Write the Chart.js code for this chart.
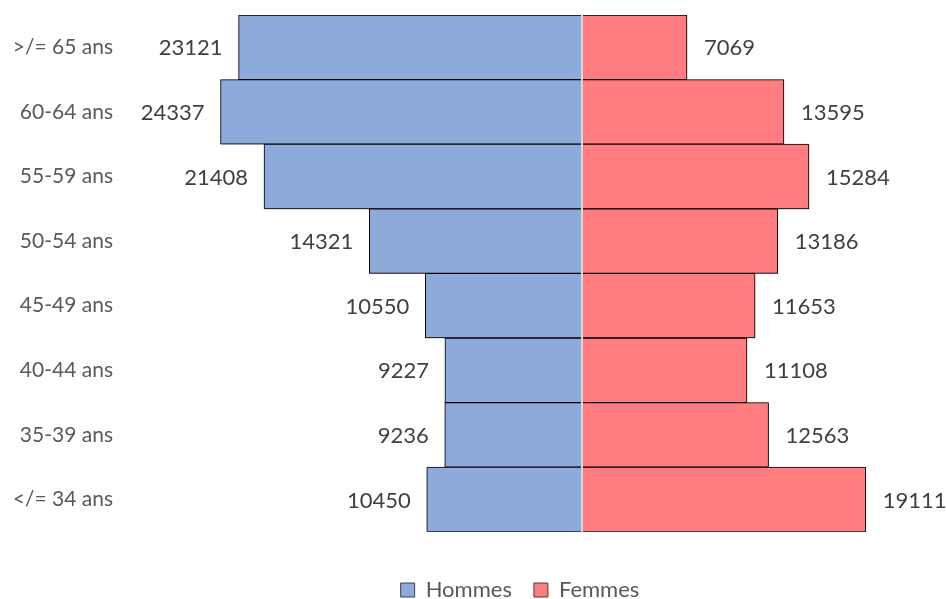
<!DOCTYPE html>
<html>
<head>
<meta charset="utf-8">
<script src="https://cdn.jsdelivr.net/npm/chart.js@4.4.1/dist/chart.umd.min.js"></script>
<style>
  html, body { margin: 0; padding: 0; background: #fff; }
  #wrap { width: 946px; height: 599px; }
</style>
</head>
<body>
<div id="wrap"><canvas id="c"></canvas></div>
<script>
// age groups, top to bottom
const ageGroups = ['>/= 65 ans', '60-64 ans', '55-59 ans', '50-54 ans', '45-49 ans', '40-44 ans', '35-39 ans', '</= 34 ans'];
const hommes = [23121, 24337, 21408, 14321, 10550, 9227, 9236, 10450];
const femmes = [7069, 13595, 15284, 13186, 11653, 11108, 12563, 19111];

const FONT = 'Lato, "Open Sans", sans-serif';

// shadow under the bars
const shadowPlugin = {
    id: 'barShadow',
    beforeDatasetsDraw(chart) {
        const ctx = chart.ctx;
        ctx.save();
        ctx.shadowColor = 'rgba(0,0,0,0.45)';
        ctx.shadowBlur = 4;
        ctx.shadowOffsetX = 1;
        ctx.shadowOffsetY = 2;
    },
    afterDatasetsDraw(chart) {
        chart.ctx.restore();
    }
};

// nudge the legend lower and a bit to the right, like the original
const legendShift = {
    id: 'legendShift',
    afterLayout(chart) {
        const lg = chart.legend;
        lg.top += 12;
        lg.bottom += 12;
        lg.left += 55;
        lg.right += 55;
    }
};

// zero line + value labels
const labelPlugin = {
    id: 'valueLabels',
    afterDatasetsDraw(chart) {
        const ctx = chart.ctx;
        const x0 = chart.scales.x.getPixelForValue(0);
        ctx.save();
        ctx.strokeStyle = '#d9d9d9';
        ctx.lineWidth = 2;
        ctx.beginPath();
        ctx.moveTo(x0, chart.chartArea.top);
        ctx.lineTo(x0, chart.chartArea.bottom);
        ctx.stroke();

        ctx.font = '22px ' + FONT;
        ctx.fillStyle = '#404040';
        ctx.textBaseline = 'middle';
        chart.data.datasets.forEach(function(ds, i) {
            const meta = chart.getDatasetMeta(i);
            meta.data.forEach(function(bar, j) {
                const v = Math.abs(ds.data[j]);
                if (ds.data[j] < 0) {
                    ctx.textAlign = 'right';
                    ctx.fillText(v, bar.x - 16, bar.y + 1);
                } else {
                    ctx.textAlign = 'left';
                    ctx.fillText(v, bar.x + 17, bar.y + 1);
                }
            });
        });
        ctx.restore();
    }
};

new Chart(document.getElementById('c'), {
    type: 'bar',
    data: {
        labels: ageGroups,
        datasets: [
            {
                label: 'Hommes',
                data: hommes.map(function(v) { return -v; }),
                backgroundColor: '#8eaadb',
                borderColor: '#000000',
                borderWidth: 1,
                borderSkipped: 'start',
                barPercentage: 1,
                categoryPercentage: 1
            },
            {
                label: 'Femmes',
                data: femmes,
                backgroundColor: '#ff7c80',
                borderColor: '#000000',
                borderWidth: 1,
                borderSkipped: 'start',
                barPercentage: 1,
                categoryPercentage: 1
            }
        ]
    },
    options: {
        indexAxis: 'y',
        responsive: true,
        maintainAspectRatio: false,
        animation: false,
        layout: {
            padding: { top: 15, right: 16, left: 0, bottom: 0 }
        },
        scales: {
            x: {
                display: false,
                stacked: true,
                min: -29760,
                max: 23434
            },
            y: {
                stacked: true,
                grid: { display: false, drawTicks: false },
                border: { display: false },
                ticks: {
                    padding: 27,
                    color: '#595959',
                    font: { family: FONT, size: 21 }
                },
                afterFit: function(scale) {
                    scale.width = 140;
                    scale.paddingTop = 0;
                    scale.paddingBottom = 0;
                }
            }
        },
        plugins: {
            tooltip: { enabled: false },
            legend: {
                position: 'bottom',
                title: {
                    display: true,
                    text: '',
                    font: { size: 1 },
                    padding: { top: 12, bottom: 0 }
                },
                labels: {
                    boxWidth: 14,
                    boxHeight: 14,
                    color: '#595959',
                    padding: 22,
                    font: { family: FONT, size: 22 },
                    generateLabels: function(chart) {
                        return chart.data.datasets.map(function(ds, i) {
                            return {
                                text: ds.label,
                                fillStyle: ds.backgroundColor,
                                strokeStyle: '#404040',
                                lineWidth: 1,
                                fontColor: '#595959',
                                datasetIndex: i
                            };
                        });
                    }
                }
            }
        }
    },
    plugins: [shadowPlugin, labelPlugin, legendShift]
});
</script>
</body>
</html>
